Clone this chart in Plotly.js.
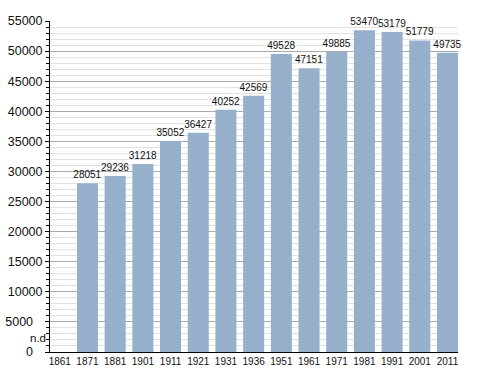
<!DOCTYPE html>
<html><head><meta charset="utf-8">
<script src="https://cdn.plot.ly/plotly-3.0.1.min.js"></script>
<style>html,body{margin:0;padding:0;background:#fff}#chart{width:488px;height:373px}</style>
</head><body><div id="chart"></div>
<script>
const years = ['1861','1871','1881','1901','1911','1921','1931','1936','1951','1961','1971','1981','1991','2001','2011'];
const population = [0,28051,29236,31218,35052,36427,40252,42569,49528,47151,49885,53470,53179,51779,49735];
const valueLabels = ['','28051','29236','31218','35052','36427','40252','42569','49528','47151','49885','53470','53179','51779','49735'];
const yTicks = [0,5000,10000,15000,20000,25000,30000,35000,40000,45000,50000,55000];
const missingLabel = 'n.d';

const trace = {
  type:'bar', x: years, y: population,
  text: valueLabels, textposition:'outside', cliponaxis:false, constraintext:'none',
  textfont:{family:'Liberation Sans, Arial, sans-serif', size:10, color:'#111'},
  marker:{color:'#96afcb', line:{width:0}},
  hoverinfo:'none'
};
const layout = {
  width:488, height:373,
  margin:{l:50, r:30, t:21, b:21},
  paper_bgcolor:'#fff', plot_bgcolor:'#fff',
  bargap:0.24,
  showlegend:false,
  font:{family:'Liberation Sans, Arial, sans-serif', size:11, color:'#111'},
  xaxis:{type:'category', range:[-0.354,14.38], showgrid:false, ticks:'', showline:true, linecolor:'#000', linewidth:1, tickfont:{size:10, color:'#111'}, ticklen:0, automargin:false},
  yaxis:{range:[0,55000], tickvals:yTicks, ticktext:yTicks.map(v => v < 10000 ? String(v) + '\u2007\u2009' : String(v)), showgrid:true, gridcolor:'#ababab', gridwidth:1,
    minor:{dtick:1000, showgrid:true, gridcolor:'#e2e2e2', ticks:'outside', ticklen:3, tickcolor:'#000'},
    ticks:'outside', ticklen:4, tickcolor:'#000', showline:true, linecolor:'#000', linewidth:1, zeroline:false,
    tickfont:{size:12.5, color:'#111'}, automargin:false},
  annotations:[{x:0, y:0, xref:'paper', yref:'y', text:missingLabel, showarrow:false, xanchor:'right', yanchor:'bottom', xshift:-2, yshift:6, font:{size:11.5, color:'#111'}}]
};
Plotly.newPlot('chart',[trace],layout,{staticPlot:true, displayModeBar:false});
</script></body></html>
